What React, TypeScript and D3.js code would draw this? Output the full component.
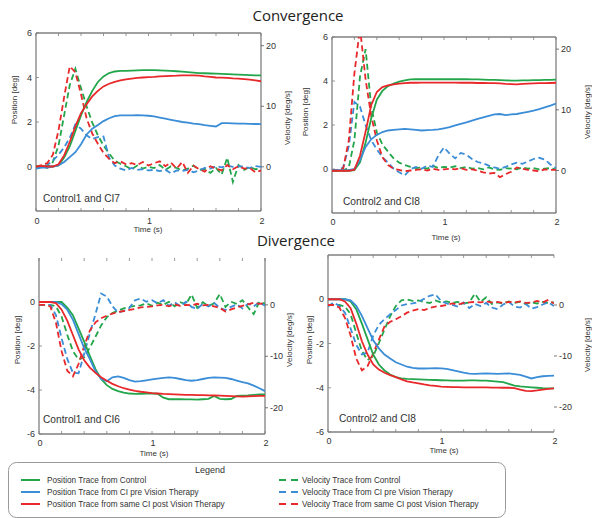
import React from 'react';
import * as d3 from 'd3';

// ---------------- data ----------------
const TIME = [0, 0.05, 0.1, 0.15, 0.2, 0.25, 0.3, 0.35, 0.4, 0.45, 0.5, 0.55, 0.6, 0.65, 0.7, 0.75, 0.8, 0.85, 0.9, 0.95, 1, 1.05, 1.1, 1.15, 1.2, 1.25, 1.3, 1.35, 1.4, 1.45, 1.5, 1.55, 1.6, 1.65, 1.7, 1.75, 1.8, 1.85, 1.9, 1.95, 2];

const TIME_TICK_LABELS = [0, 1, 2];
const SECTION_TITLES = ['Convergence', 'Divergence'];

// Convergence, Control1 and CI7
const CONV1_POS_CTRL = [0, 0.02, 0, 0, 0.05, 0.4, 0.9, 1.6, 2.3, 2.9, 3.4, 3.8, 4.05, 4.2, 4.27, 4.3, 4.3, 4.31, 4.32, 4.33, 4.33, 4.33, 4.32, 4.31, 4.3, 4.28, 4.26, 4.24, 4.22, 4.2, 4.19, 4.18, 4.17, 4.16, 4.15, 4.14, 4.13, 4.12, 4.11, 4.1, 4.1];
const CONV1_POS_PRE = [-0.1, -0.05, -0.05, 0, 0.05, 0.2, 0.42, 0.64, 1.0, 1.44, 1.7, 1.87, 2.04, 2.17, 2.26, 2.3, 2.3, 2.3, 2.31, 2.3, 2.28, 2.25, 2.2, 2.15, 2.1, 2.05, 2.0, 1.97, 1.93, 1.9, 1.86, 1.83, 1.8, 1.95, 1.95, 1.94, 1.93, 1.93, 1.92, 1.91, 1.9];
const CONV1_POS_POST = [0, 0.03, 0, 0, 0.1, 0.5, 1.1, 1.8, 2.4, 2.8, 3.15, 3.4, 3.6, 3.72, 3.8, 3.87, 3.92, 3.95, 3.98, 4.0, 4.02, 4.03, 4.05, 4.06, 4.07, 4.08, 4.1, 4.1, 4.1, 4.08, 4.05, 4.03, 4.0, 3.99, 3.98, 3.96, 3.95, 3.93, 3.9, 3.87, 3.83];
const CONV1_VEL_CTRL = [0, 0.2, -0.2, 0.8, 3.5, 8.5, 13.5, 16.2, 13, 10, 7.3, 5.2, 3.5, 2.2, 1.0, 0.5, 0.1, -0.4, 0.2, -0.3, 0.0, -0.2, 0.3, -0.5, 0.1, -0.2, -0.6, -0.3, 0.2, -0.5, -0.4, -1.0, -0.2, -1.3, 1.5, -2.5, 0.3, -0.5, 0.0, -0.4, -0.3];
const CONV1_VEL_PRE = [-0.3, 0, 0.3, 1.0, 2.0, 3.2, 4.8, 7.0, 6.3, 5.2, 4.6, 4.9, 5.0, 1.5, 0.2, -0.3, -0.6, -0.2, -0.5, -0.4, -0.6, -0.5, -0.7, -0.5, -1.1, -0.6, -0.7, -0.5, -0.9, -0.6, -0.2, -0.3, 0.1, -0.1, 0.2, 0.0, 0.1, 0.0, -0.2, 0.1, 0.0];
const CONV1_VEL_POST = [0, 0.3, 0.6, 2.0, 6, 11.5, 16.6, 15.6, 12, 8, 5.5, 3.8, 2.3, 1.3, 0.6, 0.9, 0.4, 0.6, 0.3, 0.8, 0.2, 0.6, 0.9, 0.1, 0.7, -0.3, 0.8, -1.0, 0.2, -0.4, -0.8, 0.1, -0.3, -0.6, 0.3, -0.4, 0.1, -0.3, -0.2, -0.9, -0.6];

// Convergence, Control2 and CI8
const CONV2_POS_CTRL = [-0.08, -0.08, -0.08, -0.08, -0.05, 0.3, 1.2, 2.3, 3.15, 3.55, 3.77, 3.88, 3.97, 4.03, 4.07, 4.08, 4.08, 4.08, 4.08, 4.08, 4.08, 4.08, 4.08, 4.08, 4.08, 4.07, 4.07, 4.06, 4.05, 4.05, 4.04, 4.03, 4.02, 4.02, 4.03, 4.03, 4.04, 4.04, 4.05, 4.05, 4.06];
const CONV2_POS_PRE = [-0.05, -0.05, -0.05, -0.05, 0, 0.4, 1.0, 1.35, 1.55, 1.68, 1.75, 1.78, 1.8, 1.82, 1.8, 1.78, 1.75, 1.77, 1.78, 1.8, 1.85, 1.9, 1.98, 2.05, 2.12, 2.2, 2.28, 2.35, 2.42, 2.48, 2.5, 2.45, 2.48, 2.5, 2.55, 2.6, 2.65, 2.72, 2.8, 2.88, 2.97];
const CONV2_POS_POST = [-0.08, -0.08, -0.08, -0.08, -0.03, 0.6, 1.7, 2.9, 3.5, 3.72, 3.8, 3.85, 3.88, 3.9, 3.92, 3.92, 3.93, 3.93, 3.93, 3.93, 3.93, 3.93, 3.93, 3.92, 3.92, 3.92, 3.91, 3.91, 3.9, 3.9, 3.89, 3.87, 3.86, 3.85, 3.87, 3.88, 3.89, 3.9, 3.9, 3.91, 3.92];
const CONV2_VEL_CTRL = [0, 0, 0, 0.5, 5, 15.5, 20, 10.5, 6.3, 4.3, 3.1, 2.0, 1.3, 0.9, 0.6, 0.4, 0.5, 0.3, 0.8, 0.4, 0.6, 0.5, 0.7, 0.4, 0.6, 0.3, 0.4, 0.2, 0.5, 0.2, 0.1, 0.4, 0.3, 0.2, 0.5, 0.3, 0.4, 0.2, 0.3, 0.4, 0.2];
const CONV2_VEL_PRE = [0, 0, 0.5, 4, 11.3, 10.5, 7.5, 5, 3.5, 2.2, 1.3, 0.3, -0.3, -0.8, 0.2, 0.6, 0.3, 0.8, 0.6, 2.5, 3.8, 2.8, 2.0, 2.9, 2.6, 1.9, 1.4, 1.2, 0.8, 0.5, 0.3, 0.6, 1.0, 1.3, 1.1, 1.5, 1.9, 2.1, 1.8, 1.0, 0.4];
const CONV2_VEL_POST = [0, 0, 0.3, 5, 16, 23.5, 15, 9, 5, 2.2, 0.9, 0.3, 0.1, -0.1, 0, 0.1, 0.2, 0.0, 0.3, 0.1, 0.2, 0.3, 0.2, 0.4, 0.1, 0.2, 0.0, -0.3, -0.5, -0.4, -1.1, -0.6, -0.2, 0.5, 0.3, 0.1, 0.0, -0.1, 0.2, 0.1, 0.1];

// Divergence, Control1 and CI6
const DIV1_POS_CTRL = [0, 0, 0, 0, 0, -0.25, -0.6, -1.2, -1.8, -2.45, -3.05, -3.5, -3.78, -3.95, -4.05, -4.12, -4.16, -4.18, -4.17, -4.16, -4.16, -4.17, -4.35, -4.42, -4.42, -4.42, -4.43, -4.43, -4.44, -4.42, -4.4, -4.27, -4.4, -4.42, -4.41, -4.27, -4.26, -4.25, -4.22, -4.2, -4.2];
const DIV1_POS_PRE = [0, 0, 0, 0, -0.1, -0.35, -0.8, -1.45, -2.1, -2.6, -3.15, -3.5, -3.6, -3.42, -3.38, -3.45, -3.55, -3.62, -3.6, -3.56, -3.52, -3.48, -3.45, -3.43, -3.45, -3.5, -3.55, -3.58, -3.55, -3.5, -3.45, -3.43, -3.44, -3.45, -3.5, -3.57, -3.64, -3.7, -3.8, -3.92, -4.05];
const DIV1_POS_POST = [0, 0, 0, -0.05, -0.35, -0.85, -1.5, -2.15, -2.65, -2.98, -3.22, -3.42, -3.58, -3.72, -3.83, -3.92, -3.98, -4.04, -4.08, -4.11, -4.14, -4.16, -4.18, -4.19, -4.2, -4.21, -4.22, -4.22, -4.23, -4.23, -4.24, -4.25, -4.26, -4.27, -4.28, -4.29, -4.3, -4.29, -4.28, -4.27, -4.27];
const DIV1_VEL_CTRL = [0, 0, 0, -0.3, -2.3, -5.8, -9, -10.6, -10.2, -8.3, -6.2, -4, -2.4, -1.6, -1.1, -0.7, -0.4, -0.2, -0.1, 0.3, -0.2, 0.4, 0.0, 0.6, -0.3, 0.5, 0.1, 2.0, -0.6, 0.5, -0.2, 0.3, 2.1, -0.4, 0.6, 0.2, 0.9, -0.5, -1.8, 0.6, 0.2];
const DIV1_VEL_PRE = [0, 0, 0, -2, -6.5, -10.5, -13.2, -13.3, -9.5, -5.5, -1.8, 2.2, 1.6, -0.3, -1.5, -1.2, -0.6, 0.9, 1.2, 0.6, 0.9, 0.3, 0.9, -0.2, 0.5, -0.3, 0.6, -0.4, -0.8, 0.2, -0.3, 0.4, -0.6, -1.0, -0.4, 0.1, -0.7, 0.2, -0.3, 0.5, -0.2];
const DIV1_VEL_POST = [0, 0, -0.3, -3.5, -9, -12.8, -13.9, -11.5, -8, -5, -3.4, -2.6, -2.1, -1.7, -1.4, -1.2, -1.0, -0.8, -0.5, -0.4, -0.3, -0.1, 0.0, -0.3, 0.1, -0.2, 0.0, -0.1, 0.2, -0.1, 0.0, -0.3, -0.6, -1.3, -0.9, -0.5, -0.2, 0.1, 0.4, 0.2, 0.3];

// Divergence, Control2 and CI8
const DIV2_POS_CTRL = [0, 0, 0, 0, -0.1, -0.45, -1.1, -1.8, -2.5, -2.95, -3.22, -3.4, -3.52, -3.58, -3.6, -3.61, -3.62, -3.63, -3.64, -3.65, -3.66, -3.67, -3.68, -3.68, -3.68, -3.67, -3.67, -3.68, -3.68, -3.7, -3.72, -3.75, -3.82, -3.9, -3.94, -3.96, -3.98, -4.0, -4.02, -4.03, -4.03];
const DIV2_POS_PRE = [0, 0, 0, 0, -0.05, -0.3, -0.75, -1.3, -1.85, -2.22, -2.5, -2.68, -2.85, -2.95, -3.05, -3.1, -3.13, -3.13, -3.12, -3.11, -3.12, -3.15, -3.2, -3.26, -3.32, -3.36, -3.37, -3.36, -3.35, -3.36, -3.37, -3.36, -3.35, -3.38, -3.42, -3.5, -3.58, -3.52, -3.48, -3.46, -3.45];
const DIV2_POS_POST = [0, 0, 0, -0.1, -0.4, -1.1, -1.9, -2.5, -2.95, -3.18, -3.32, -3.43, -3.52, -3.62, -3.71, -3.76, -3.8, -3.85, -3.89, -3.92, -3.95, -3.96, -3.97, -3.97, -3.98, -3.98, -3.98, -3.98, -3.98, -3.99, -3.99, -4.0, -4.0, -4.02, -4.08, -4.14, -4.15, -4.12, -4.08, -4.05, -4.03];
const DIV2_VEL_CTRL = [0, 0, 0, -0.3, -1.8, -5.5, -9, -10.8, -10, -7.5, -4.8, -2.2, -0.2, 0.9, 1.1, 0.8, 0.9, 0.6, 0.4, 0.9, 0.5, 0.7, 0.4, 0.6, 0.3, 0.5, 2.2, 0.6, 1.5, 0.2, 0.5, 0.3, 0.7, 0.4, 0.6, 0.2, 0.5, 0.3, 0.6, 0.4, 0.5];
const DIV2_VEL_PRE = [-0.3, 0.5, -0.2, -1.5, -4.6, -7.8, -9.7, -9.3, -6, -3.9, -2.8, -1.8, -1.0, -0.1, 0.2, 0.3, 0.6, 1.2, 1.8, 2.1, 0.8, 0.3, 0.0, -0.3, 0.5, -0.6, 0.2, -0.2, 0.4, -0.5, -0.8, 0.1, 0.6, -0.3, -0.5, 0.2, -0.7, -0.4, 0.1, 0.5, -0.2];
const DIV2_VEL_POST = [0, 0, -0.5, -2.5, -6, -10.5, -12.8, -12, -9.5, -6.8, -4.2, -3.3, -2.8, -2.2, -1.5, -1.1, -0.8, -1.0, -0.6, -0.3, -0.2, 0.0, 0.3, 0.1, 0.4, 0.5, 0.6, 0.5, 0.7, 0.5, 0.6, 0.4, 0.6, 0.5, 0.7, 0.4, 0.5, 0.8, 0.5, 1.0, 0.3];

const LEGEND_LEFT = ['Position Trace from Control', 'Position Trace from CI pre Vision Therapy', 'Position Trace from same CI post Vision Therapy'];
const LEGEND_RIGHT = ['Velocity Trace from Control', 'Velocity Trace from CI pre Vision Therapy', 'Velocity Trace from same CI post Vision Therapy'];

// ---------------- styling ----------------
const COLORS = ['#23a64b', '#3a8dd6', '#e8282a'];
const FRAME = '#808080';
const TEXT = '#333';
const FONT = '"Liberation Sans", Arial, sans-serif';
const TITLE_FONT = '"Open Sans", "Liberation Sans", sans-serif';

type PanelDef = {
  id: string;
  left: number; right: number; top: number; bottom: number;
  posDom: [number, number]; velDom: [number, number];
  posTicks: number[]; velTicks: number[];
  name: string; annot: [number, number];
  tickY: number; timeLabel: [number, number];
  posLabel: [number, number]; velLabel: [number, number];
  frameTop: boolean; frameRight: boolean;
  pos: number[][]; vel: number[][];
};

const PANELS: PanelDef[] = [
  {
    id: 'c1', left: 36, right: 261, top: 33, bottom: 211,
    posDom: [-2, 6], velDom: [-7.3, 22.1], posTicks: [0, 2, 4, 6], velTicks: [0, 10, 20],
    name: 'Control1 and CI7', annot: [43, 202], tickY: 224, timeLabel: [148, 232],
    posLabel: [17, 100], velLabel: [290, 118], frameTop: true, frameRight: true,
    pos: [CONV1_POS_CTRL, CONV1_POS_PRE, CONV1_POS_POST], vel: [CONV1_VEL_CTRL, CONV1_VEL_PRE, CONV1_VEL_POST],
  },
  {
    id: 'c2', left: 332, right: 556, top: 37, bottom: 213,
    posDom: [-2, 6], velDom: [-7, 22], posTicks: [0, 2, 4, 6], velTicks: [0, 10, 20],
    name: 'Control2 and CI8', annot: [343, 205], tickY: 225, timeLabel: [446, 240],
    posLabel: [308, 112], velLabel: [590, 112], frameTop: true, frameRight: true,
    pos: [CONV2_POS_CTRL, CONV2_POS_PRE, CONV2_POS_POST], vel: [CONV2_VEL_CTRL, CONV2_VEL_PRE, CONV2_VEL_POST],
  },
  {
    id: 'd1', left: 39, right: 265, top: 258, bottom: 434,
    posDom: [-6, 2], velDom: [-25.1, 9.1], posTicks: [0, -2, -4, -6], velTicks: [0, -10, -20],
    name: 'Control1 and CI6', annot: [43, 423], tickY: 446, timeLabel: [154, 456],
    posLabel: [20, 340], velLabel: [292, 340], frameTop: false, frameRight: true,
    pos: [DIV1_POS_CTRL, DIV1_POS_PRE, DIV1_POS_POST], vel: [DIV1_VEL_CTRL, DIV1_VEL_PRE, DIV1_VEL_POST],
  },
  {
    id: 'd2', left: 328, right: 554, top: 255, bottom: 432,
    posDom: [-6, 2], velDom: [-24.9, 9.8], posTicks: [0, -2, -4, -6], velTicks: [0, -10, -20],
    name: 'Control2 and CI8', annot: [339, 422], tickY: 444, timeLabel: [444, 453],
    posLabel: [312, 340], velLabel: [590, 345], frameTop: true, frameRight: false,
    pos: [DIV2_POS_CTRL, DIV2_POS_PRE, DIV2_POS_POST], vel: [DIV2_VEL_CTRL, DIV2_VEL_PRE, DIV2_VEL_POST],
  },
];

function Panel({ p }: { p: PanelDef }) {
  const x = d3.scaleLinear().domain([0, 2]).range([p.left, p.right]);
  const yP = d3.scaleLinear().domain(p.posDom).range([p.bottom, p.top]);
  const yV = d3.scaleLinear().domain(p.velDom).range([p.bottom, p.top]);
  const lineP = d3.line<number>().x((_, i) => x(TIME[i])).y((d) => yP(d));
  const lineV = d3.line<number>().x((_, i) => x(TIME[i])).y((d) => yV(d));
  const minor = x.ticks(10);
  const clipId = `clip-${p.id}`;
  return (
    <g>
      <defs>
        <clipPath id={clipId}>
          <rect x={p.left} y={p.top} width={p.right - p.left} height={p.bottom - p.top} />
        </clipPath>
      </defs>
      <line x1={p.left} x2={p.left} y1={p.top} y2={p.bottom} stroke={FRAME} strokeWidth={1.3} />
      <line x1={p.left} x2={p.right} y1={p.bottom} y2={p.bottom} stroke={FRAME} strokeWidth={1.3} />
      {p.frameTop && <line x1={p.left} x2={p.right} y1={p.top} y2={p.top} stroke={FRAME} strokeWidth={1.3} />}
      {p.frameRight && <line x1={p.right} x2={p.right} y1={p.top} y2={p.bottom} stroke={FRAME} strokeWidth={1.3} />}
      {minor.map((t) => (
        <g key={`t${t}`}>
          <line x1={x(t)} x2={x(t)} y1={p.top} y2={p.top + 3} stroke={FRAME} strokeWidth={0.8} />
          <line x1={x(t)} x2={x(t)} y1={p.bottom} y2={p.bottom - 3} stroke={FRAME} strokeWidth={0.8} />
        </g>
      ))}
      {TIME_TICK_LABELS.map((t) => (
        <text key={`tl${t}`} x={x(t) + 1} y={p.tickY} fontSize={9} fill={TEXT} textAnchor="middle" fontFamily={FONT}>{t}</text>
      ))}
      <text x={p.timeLabel[0]} y={p.timeLabel[1]} fontSize={8} fill={TEXT} textAnchor="middle" fontFamily={FONT}>Time (s)</text>
      {p.posTicks.map((v) => (
        <g key={`p${v}`}>
          <line x1={p.left} x2={p.left + 3} y1={yP(v)} y2={yP(v)} stroke={FRAME} strokeWidth={0.8} />
          <text x={p.left - 4} y={yP(v) + 3} fontSize={9} fill={TEXT} textAnchor="end" fontFamily={FONT}>{v}</text>
        </g>
      ))}
      {p.velTicks.map((v) => (
        <g key={`v${v}`}>
          <line x1={p.right} x2={p.right + 3} y1={yV(v)} y2={yV(v)} stroke="#555" strokeWidth={0.8} />
          <text x={p.right + 5} y={yV(v) + 3} fontSize={9} fill={TEXT} textAnchor="start" fontFamily={FONT}>{v}</text>
        </g>
      ))}
      <text transform={`translate(${p.posLabel[0]},${p.posLabel[1]}) rotate(-90)`} fontSize={8} fill={TEXT} textAnchor="middle" fontFamily={FONT}>Position [deg]</text>
      <text transform={`translate(${p.velLabel[0]},${p.velLabel[1]}) rotate(-90)`} fontSize={8} fill={TEXT} textAnchor="middle" fontFamily={FONT}>Velocity [deg/s]</text>
      <g clipPath={`url(#${clipId})`}>
        {p.vel.map((s, i) => (
          <path key={`vel${i}`} d={lineV(s) || ''} fill="none" stroke={COLORS[i]} strokeWidth={1.8} strokeDasharray="6,3.5" />
        ))}
        {p.pos.map((s, i) => (
          <path key={`pos${i}`} d={lineP(s) || ''} fill="none" stroke={COLORS[i]} strokeWidth={1.8} />
        ))}
      </g>
      <text x={p.annot[0]} y={p.annot[1]} fontSize={10.2} fill={TEXT} fontFamily={FONT}>{p.name}</text>
    </g>
  );
}

function Legend() {
  const rows = [480, 492, 504];
  return (
    <g>
      <rect x={8.5} y={462.5} width={497} height={55} rx={8} ry={8} fill="white" stroke="#9a9a9a" strokeWidth={1} />
      <text x={210} y={473} fontSize={9} fill={TEXT} textAnchor="middle" fontFamily={FONT}>Legend</text>
      {LEGEND_LEFT.map((s, i) => (
        <g key={`ll${i}`}>
          <line x1={21} x2={40} y1={rows[i]} y2={rows[i]} stroke={COLORS[i]} strokeWidth={2} />
          <text x={47} y={rows[i] + 3} fontSize={8.2} fill={TEXT} fontFamily={FONT}>{s}</text>
        </g>
      ))}
      {LEGEND_RIGHT.map((s, i) => (
        <g key={`lr${i}`}>
          <line x1={279} x2={298} y1={rows[i]} y2={rows[i]} stroke={COLORS[i]} strokeWidth={2} strokeDasharray="7,5" />
          <text x={302} y={rows[i] + 3} fontSize={8.2} fill={TEXT} fontFamily={FONT}>{s}</text>
        </g>
      ))}
    </g>
  );
}

export default function App() {
  return (
    <svg width={592} height={518} style={{ position: 'absolute', left: 0, top: 0, background: 'white' }}>
      <rect x={0} y={0} width={592} height={518} fill="white" />
      <text x={298} y={21} fontSize={15} fill="#222" textAnchor="middle" fontFamily={TITLE_FONT}>{SECTION_TITLES[0]}</text>
      <text x={296} y={246} fontSize={15} fill="#222" textAnchor="middle" fontFamily={TITLE_FONT}>{SECTION_TITLES[1]}</text>
      {PANELS.map((p) => (
        <Panel key={p.id} p={p} />
      ))}
      <Legend />
    </svg>
  );
}
